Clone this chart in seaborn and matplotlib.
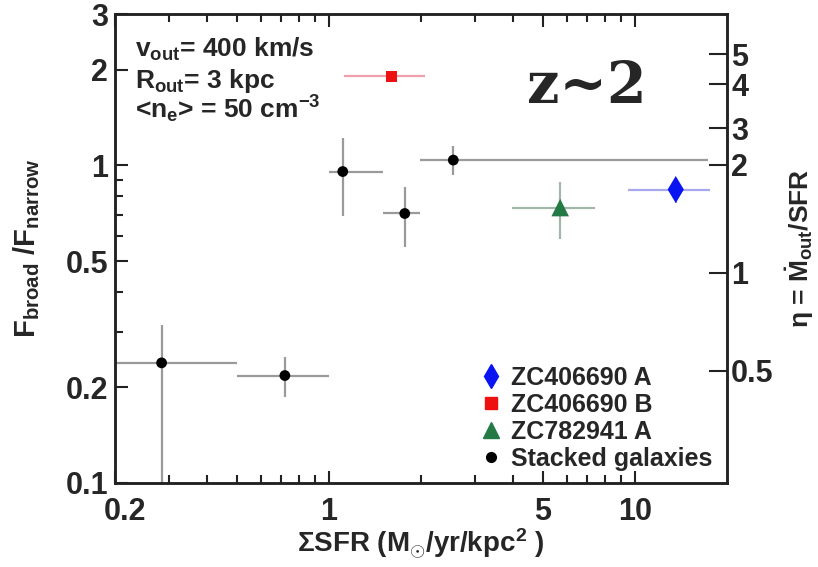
import matplotlib
matplotlib.use("Agg")
import matplotlib.pyplot as plt
import matplotlib.transforms as mtrans
import seaborn as sns
import pandas as pd
import numpy as np
from matplotlib.ticker import FixedLocator, FixedFormatter, NullFormatter
from matplotlib.lines import Line2D

# ---------------- data ----------------
stack_x = [0.284, 0.718, 1.11, 1.77, 2.55]
stack_y = [0.239, 0.218, 0.957, 0.706, 1.04]
stack_x_lo = [0.2, 0.5, 1.0, 1.5, 1.98]
stack_x_hi = [0.5, 1.0, 1.5, 1.98, 17.3]
stack_y_lo = [0.05, 0.186, 0.695, 0.555, 0.93]
stack_y_hi = [0.315, 0.25, 1.22, 0.858, 1.156]

zcB_x = [1.6]
zcB_y = [1.91]
zcB_x_lo = [1.12]
zcB_x_hi = [2.06]
zcB_y_lo = [1.83]
zcB_y_hi = [1.99]

zc7_x = [5.7]
zc7_y = [0.737]
zc7_x_lo = [3.97]
zc7_x_hi = [7.43]
zc7_y_lo = [0.585]
zc7_y_hi = [0.884]

zcA_x = [13.6]
zcA_y = [0.84]
zcA_x_lo = [9.5]
zcA_x_hi = [17.6]
zcA_y_lo = [0.764]
zcA_y_hi = [0.904]

x_major = [0.2, 1, 5, 10]
x_major_labels = ["0.2", "1", "5", "10"]
x_minor = [0.3, 0.4, 0.5, 0.6, 0.7, 0.8, 0.9, 2, 3, 4, 6, 7, 8, 9]
y_major = [0.1, 0.2, 0.5, 1, 2, 3]
y_major_labels = ["0.1", "0.2", "0.5", "1", "2", "3"]
y_minor = [0.3, 0.4, 0.6, 0.7, 0.8, 0.9]
eta_labels = ["0.5", "1", "2", "3", "4", "5"]
eta_pos_in_F = [0.2256, 0.46, 1.007, 1.31, 1.80, 2.24]

# ---------------- style ----------------
sns.set_theme(style="ticks")
plt.rcParams['font.family'] = ['Liberation Sans', 'DejaVu Sans']
plt.rcParams['font.weight'] = 'bold'
plt.rcParams['axes.labelweight'] = 'bold'
plt.rcParams['mathtext.fontset'] = 'custom'
plt.rcParams['mathtext.rm'] = 'Liberation Sans:bold'
plt.rcParams['mathtext.it'] = 'Liberation Sans:bold'
plt.rcParams['mathtext.bf'] = 'Liberation Sans:bold'
plt.rcParams['mathtext.sf'] = 'Liberation Sans:bold'

fig = plt.figure(figsize=(8.18, 5.67), dpi=100)
ax = fig.add_axes([115/818, 1 - 483/567, 612/818, 469/567])
ax.set_xscale('log')
ax.set_yscale('log')


def draw(x, y, xlo, xhi, ylo, yhi, ecolor):
    x = np.array(x); y = np.array(y)
    xerr = [x - np.array(xlo), np.array(xhi) - x]
    yerr = [y - np.array(ylo), np.array(yhi) - y]
    ax.errorbar(x, y, xerr=xerr, yerr=yerr, fmt='none', ecolor=ecolor,
                elinewidth=1.6, capsize=0, zorder=1)


draw(stack_x, stack_y, stack_x_lo, stack_x_hi, stack_y_lo, stack_y_hi, '#9a9a9a')
draw(zcB_x, zcB_y, zcB_x_lo, zcB_x_hi, zcB_y_lo, zcB_y_hi, '#f0a0aa')
draw(zc7_x, zc7_y, zc7_x_lo, zc7_x_hi, zc7_y_lo, zc7_y_hi, '#a0b8a8')
draw(zcA_x, zcA_y, zcA_x_lo, zcA_x_hi, zcA_y_lo, zcA_y_hi, '#a8a8ee')

c_blue, c_red, c_green, c_black = '#0a14f0', '#ee1111', '#237a45', '#000000'

sns.scatterplot(x=stack_x, y=stack_y, ax=ax, marker='o', s=60, color=c_black,
                edgecolor='none', zorder=3, legend=False)
sns.scatterplot(x=zcB_x, y=zcB_y, ax=ax, marker='s', s=60, color=c_red,
                edgecolor='none', zorder=3, legend=False)
sns.scatterplot(x=zc7_x, y=zc7_y, ax=ax, marker='^', s=160, color=c_green,
                edgecolor='none', zorder=3, legend=False)
sns.scatterplot(x=zcA_x, y=zcA_y, ax=ax, marker='d', s=190, color=c_blue,
                edgecolor='none', zorder=3, legend=False)

ax.set_xlim(0.2, 20)
ax.set_ylim(0.1, 3)

# ticks
ax.xaxis.set_major_locator(FixedLocator(x_major))
ax.xaxis.set_major_formatter(FixedFormatter(x_major_labels))
ax.xaxis.set_minor_locator(FixedLocator(x_minor))
ax.xaxis.set_minor_formatter(NullFormatter())
ax.yaxis.set_major_locator(FixedLocator(y_major))
ax.yaxis.set_major_formatter(FixedFormatter(y_major_labels))
ax.yaxis.set_minor_locator(FixedLocator(y_minor))
ax.yaxis.set_minor_formatter(NullFormatter())

ax.tick_params(axis='both', which='both', direction='in', width=1.5, color='#222222')
ax.tick_params(axis='x', which='major', length=9, labelsize=22, pad=10, top=True)
ax.tick_params(axis='x', which='minor', length=6, top=True)
ax.tick_params(axis='y', which='major', length=9, labelsize=22, pad=5, right=False)
ax.tick_params(axis='y', which='minor', length=6, right=False)
for lab in ax.get_xticklabels() + ax.get_yticklabels():
    lab.set_fontweight('bold')
# the "0.2" label sits slightly right of its tick in the reference
first = ax.get_xticklabels()[0]
first.set_transform(first.get_transform() +
                    mtrans.ScaledTranslation(10/100, 0, fig.dpi_scale_trans))

for sp in ax.spines.values():
    sp.set_linewidth(1.8)
    sp.set_color('#222222')

ax.set_xlabel("\u03a3SFR (M$_{\\odot}$/yr/kpc$^{2}$ )", fontsize=20, fontweight='bold', labelpad=0)
ax.set_ylabel("F$_{\\mathrm{broad}}$ /F$_{\\mathrm{narrow}}$", fontsize=21, fontweight='bold', labelpad=17)

# right axis
ax2 = ax.twinx()
ax2.set_yscale('log')
ax2.set_ylim(ax.get_ylim())
ax2.yaxis.set_major_locator(FixedLocator(eta_pos_in_F))
ax2.yaxis.set_major_formatter(FixedFormatter(eta_labels))
ax2.yaxis.set_minor_locator(FixedLocator([]))
ax2.tick_params(axis='y', which='major', direction='in', length=13, width=1.5,
                labelsize=22, pad=3, color='#222222')
for lab in ax2.get_yticklabels():
    lab.set_fontweight('bold')
for sp in ax2.spines.values():
    sp.set_linewidth(1.8)
    sp.set_color('#222222')
ax2.set_ylabel("\u03b7 = $\\dot{\\mathrm{M}}_{\\mathrm{out}}$/SFR", fontsize=19,
               fontweight='bold', labelpad=7)

# annotations
ax.text(0.033, 0.908, "v$_{\\mathrm{out}}$= 400 km/s", transform=ax.transAxes,
        fontsize=19, fontweight='bold', va='baseline', ha='left')
ax.text(0.033, 0.842, "R$_{\\mathrm{out}}$= 3 kpc", transform=ax.transAxes,
        fontsize=19, fontweight='bold', va='baseline', ha='left')
ax.text(0.033, 0.778, "<n$_{\\mathrm{e}}$> = 50 cm$^{\\mathrm{-3}}$", transform=ax.transAxes,
        fontsize=19, fontweight='bold', va='baseline', ha='left')
ax.text(0.771, 0.844, "z~2", transform=ax.transAxes, fontsize=41,
        fontweight='bold', family='DejaVu Serif', va='center', ha='center')

# legend
handles = [
    Line2D([], [], marker='d', color=c_blue, linestyle='none', markersize=12),
    Line2D([], [], marker='s', color=c_red, linestyle='none', markersize=8),
    Line2D([], [], marker='^', color=c_green, linestyle='none', markersize=12),
    Line2D([], [], marker='o', color=c_black, linestyle='none', markersize=7),
]
labels = ["ZC406690 A", "ZC406690 B", "ZC782941 A", "Stacked galaxies"]
leg = ax.legend(handles, labels, loc='lower left', bbox_to_anchor=(0.57, -0.012),
                frameon=False, fontsize=18, handlelength=0.8, handletextpad=0.4,
                labelspacing=0.12, borderpad=0.2)
for t in leg.get_texts():
    t.set_fontweight('bold')

fig.savefig("out.png", dpi=100)
